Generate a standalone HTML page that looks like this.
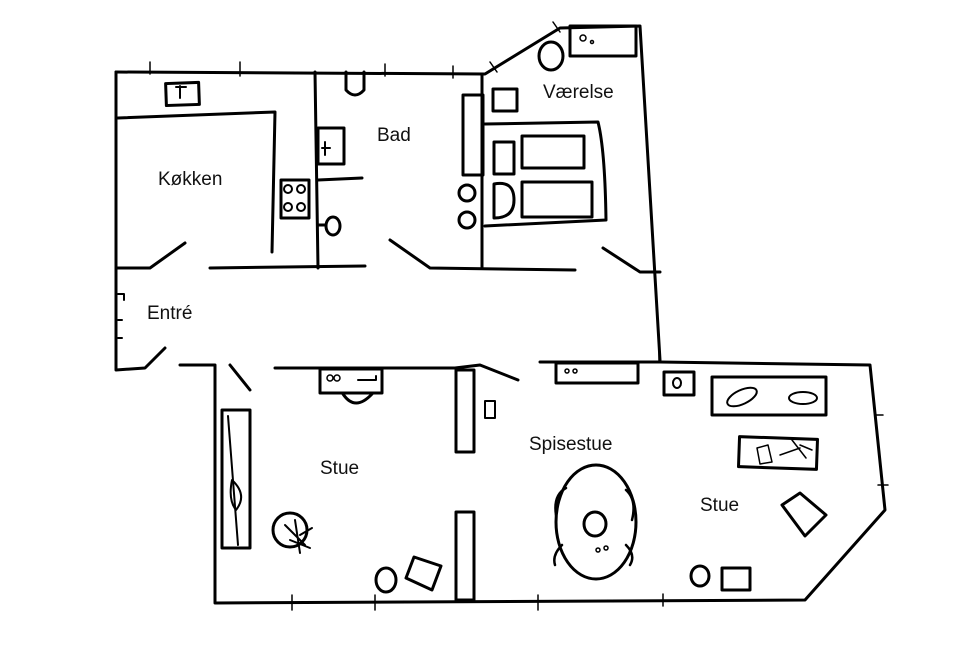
<!DOCTYPE html>
<html><head><meta charset="utf-8"><style>
html,body{margin:0;padding:0;background:#fff;width:966px;height:660px;overflow:hidden}
svg{display:block}
text{font-family:"Liberation Sans",sans-serif;font-size:19px;fill:#111}
</style></head><body>
<svg width="966" height="660" viewBox="0 0 966 660" fill="none" stroke="#000" stroke-width="3" stroke-linecap="round" stroke-linejoin="round">
<!-- outer top -->
<path d="M116 72 L485 74 L560 28 L640 26 L660 360"/>
<path d="M116 72 L116 370 L145 368 L165 348"/>
<!-- top ticks -->
<path d="M150 62 V74 M240 62 V76 M385 64 V76 M453 66 V78 M490 62 L497 72 M553 22 L560 32" stroke-width="1.5"/>
<!-- kitchen -->
<path d="M118 118 L275 112 L272 252"/>
<rect x="166" y="83" width="33" height="22" transform="rotate(-2 182 94)"/>
<path d="M180 86 V98 M176 87 H186" stroke-width="2"/>
<rect x="281" y="180" width="28" height="38"/>
<circle cx="288" cy="189" r="4" stroke-width="2"/><circle cx="301" cy="189" r="4" stroke-width="2"/>
<circle cx="288" cy="207" r="4" stroke-width="2"/><circle cx="301" cy="207" r="4" stroke-width="2"/>
<!-- bath -->
<path d="M315 72 L318 268"/>
<path d="M346 72 V90 Q355 100 364 90 V72" />
<rect x="318" y="128" width="26" height="36"/>
<path d="M322 148 H330 M325 142 V155" stroke-width="2"/>
<path d="M318 180 L362 178"/>
<path d="M318 225 L326 225"/><ellipse cx="333" cy="226" rx="7" ry="9"/>
<path d="M482 74 L482 268"/>
<rect x="463" y="95" width="20" height="80"/>
<circle cx="467" cy="193" r="8"/><circle cx="467" cy="220" r="8"/>
<!-- hall top wall -->
<path d="M116 268 L150 268 L185 243"/>
<path d="M210 268 L365 266"/>
<path d="M390 240 L430 268 L575 270"/>
<path d="M603 248 L640 272 L660 272"/>
<!-- værelse furniture -->
<ellipse cx="551" cy="56" rx="12" ry="14"/>
<rect x="570" y="26" width="66" height="30"/>
<circle cx="583" cy="38" r="3" stroke-width="1.5"/><circle cx="592" cy="42" r="1.5" stroke-width="1.5"/>
<rect x="493" y="89" width="24" height="22"/>
<path d="M485 124 L598 122 Q605 150 606 220 L485 226"/>
<rect x="494" y="142" width="20" height="32"/><rect x="522" y="136" width="62" height="32"/>
<path d="M494 184 Q514 180 514 200 Q514 218 494 218 Z"/><rect x="522" y="182" width="70" height="35"/>
<!-- entre wall marks -->
<path d="M118 294 H124 V300 M118 320 H122 M118 338 H122" stroke-width="2"/>
<!-- lower part -->
<path d="M180 365 L215 365 L215 603 L805 600 L885 510 L870 365 L660 362 L540 362"/>
<path d="M230 365 L250 390"/>
<path d="M275 368 L455 368 L480 365 L518 380"/>
<path d="M890 620 L893 622" stroke-width="0"/>
<!-- bottom ticks -->
<path d="M292 595 V610 M375 595 V610 M538 595 V610 M663 594 V606 M659 345 V362 M875 415 H883 M878 485 H888" stroke-width="1.5"/>
<!-- partitions -->
<rect x="456" y="370" width="18" height="82"/>
<rect x="456" y="512" width="18" height="88"/>
<!-- stue left -->
<rect x="222" y="410" width="28" height="138"/>
<path d="M228 416 L238 545" stroke-width="2"/>
<path d="M232 480 Q248 495 236 510 Q228 500 232 480" stroke-width="2"/>
<rect x="320" y="369" width="62" height="24"/>
<circle cx="330" cy="378" r="3" stroke-width="1.5"/><circle cx="337" cy="378" r="3" stroke-width="1.5"/>
<path d="M358 380 H376 V376" stroke-width="2"/>
<path d="M343 394 Q355 412 372 394"/>
<rect x="485" y="401" width="10" height="17" stroke-width="2"/>
<circle cx="290" cy="530" r="17"/>
<path d="M285 525 L305 545 M295 520 L300 553 M300 535 L312 528 M290 540 L310 548" stroke-width="2"/>
<ellipse cx="386" cy="580" rx="10" ry="12"/>
<path d="M406 578 L414 557 L441 566 L432 590 Z"/>
<!-- spisestue -->
<rect x="556" y="363" width="82" height="20"/>
<circle cx="567" cy="371" r="2" stroke-width="1.5"/><circle cx="575" cy="371" r="2" stroke-width="1.5"/>
<rect x="664" y="372" width="30" height="23"/><ellipse cx="677" cy="383" rx="4" ry="5" stroke-width="2"/>
<rect x="712" y="377" width="114" height="38"/>
<ellipse cx="742" cy="397" rx="16" ry="7" transform="rotate(-25 742 397)" stroke-width="2"/>
<ellipse cx="803" cy="398" rx="14" ry="6" stroke-width="2"/>
<rect x="739" y="438" width="78" height="30" transform="rotate(2 778 453)"/>
<path d="M757 448 L768 445 L772 462 L760 464 Z M780 455 L800 448 M792 440 L806 458 M800 445 L812 450" stroke-width="1.5"/>
<ellipse cx="596" cy="522" rx="40" ry="57"/>
<path d="M566 488 Q553 495 556 515 M626 490 Q637 500 632 520 M562 545 Q552 555 555 565 M626 545 Q636 555 630 565" stroke-width="2.5"/>
<ellipse cx="595" cy="524" rx="11" ry="12"/>
<circle cx="598" cy="550" r="2" stroke-width="1.5"/><circle cx="606" cy="548" r="2" stroke-width="1.5"/>
<path d="M782 505 L800 493 L826 515 L805 536 Z"/>
<ellipse cx="700" cy="576" rx="9" ry="10"/>
<rect x="722" y="568" width="28" height="22"/>
<g stroke="none">
<text x="158" y="185">Køkken</text>
<text x="377" y="141">Bad</text>
<text x="543" y="98">Værelse</text>
<text x="147" y="319">Entré</text>
<text x="320" y="474">Stue</text>
<text x="529" y="450">Spisestue</text>
<text x="700" y="511">Stue</text>
</g>
</svg>
</body></html>
